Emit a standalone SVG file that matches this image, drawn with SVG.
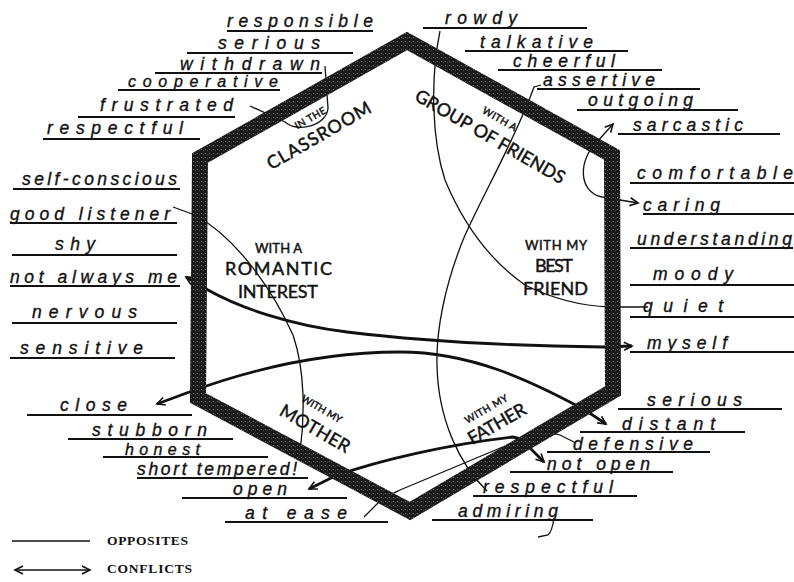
<svg xmlns="http://www.w3.org/2000/svg" width="794" height="582" viewBox="0 0 794 582">
<defs>
<style>
.hw{font-family:"Liberation Sans","DejaVu Sans",sans-serif;font-style:italic;font-size:17.5px;fill:#111;stroke:#111;stroke-width:0.35}
.sm{font-size:16px}
.ul{stroke:#111;stroke-width:1.8;fill:none}
.lab{font-family:Lato,"Liberation Sans",sans-serif;fill:#111;stroke:#111;stroke-width:0.45}
.thin{fill:none;stroke:#111;stroke-width:1.3}
.thick{fill:none;stroke:#111;stroke-width:2.8}
.leg{font-family:"Liberation Serif",serif;font-weight:bold;font-size:13.5px;fill:#111}
</style>
<pattern id="stip" width="4" height="4" patternUnits="userSpaceOnUse">
<rect width="4" height="4" fill="#1a1a1a"/>
<rect x="1" y="1" width="1" height="1" fill="#7a7a7a"/>
<rect x="3" y="2" width="1" height="1" fill="#4a4a4a"/>
</pattern>
<marker id="arr" viewBox="0 0 10 10" refX="9" refY="5" markerWidth="10" markerHeight="10" markerUnits="userSpaceOnUse" orient="auto-start-reverse" overflow="visible">
<path d="M1,1 L9,5 L1,9" fill="none" stroke="#111" stroke-width="1.6"/>
</marker>
</defs>
<rect width="794" height="582" fill="#fff"/>

<g id="connectors">
<path class="thin" d="M325,66 L328,108 C327,126 297,133 285,122 L250,106"/>
<path class="thin" d="M440,31 C430,80 432,140 445,180 C465,228 492,262 525,285 C555,300 585,306 610,307 L648,307"/>
<path class="thin" d="M541,85 L534,87 C515,140 480,200 463,240 C445,285 436,330 437,365 C438,420 460,465 487,491"/>
<path class="thin" d="M173,207 L195,215 C240,240 275,295 293,335 C305,370 305,415 300,452"/>
<path class="thick" d="M186,277 L208,290 C240,308 290,325 347,332 C420,341 520,346 603,347 L632,346" marker-start="url(#arr)" marker-end="url(#arr)"/>
<path class="thick" d="M157,404 L192,391 C250,370 320,352 400,352 C470,352 530,380 585,410 L606,424" marker-start="url(#arr)" marker-end="url(#arr)"/>
<path class="thick" d="M309,489 L335,476 C380,460 450,444 513,437 C522,438 526,443 530,448 L544,462" marker-start="url(#arr)" marker-end="url(#arr)"/>
<path class="thin" d="M364,517 L378,503 C385,497 392,494 400,490 L505,446 C530,436 550,432 560,435 L576,443"/>
<path class="thin" d="M613,124 L597,142 C578,160 578,192 602,197 L638,203" marker-start="url(#arr)" marker-end="url(#arr)"/>
</g>

<g id="hexagon">
<polygon points="407,41 612,155 613,391 410,511 198,398 200,158" fill="none" stroke="url(#stip)" stroke-width="16" stroke-linejoin="miter"/>
</g>

<g id="ctx-classroom">
<text class="lab" x="312" y="121" font-size="10" text-anchor="middle" textLength="34" transform="rotate(-30 312 121)">IN THE</text>
<text class="lab" x="322" y="141" font-size="18" text-anchor="middle" textLength="117" transform="rotate(-30 322 141)">CLASSROOM</text>
</g>
<g id="ctx-friends">
<text class="lab" x="498" y="122" font-size="10" text-anchor="middle" textLength="38" transform="rotate(30 498 122)">WITH A</text>
<text class="lab" x="487" y="142" font-size="18" text-anchor="middle" textLength="170" transform="rotate(30 487 142)">GROUP OF FRIENDS</text>
</g>
<g id="ctx-romantic">
<text class="lab" x="255" y="253" font-size="13" textLength="47">WITH A</text>
<text class="lab" x="225" y="275" font-size="18" textLength="107">ROMANTIC</text>
<text class="lab" x="238" y="298" font-size="18" textLength="80">INTEREST</text>
</g>
<g id="ctx-bestfriend">
<text class="lab" x="525" y="250" font-size="13" textLength="62">WITH MY</text>
<text class="lab" x="535" y="272" font-size="18" textLength="38">BEST</text>
<text class="lab" x="523" y="295" font-size="18" textLength="65">FRIEND</text>
</g>
<g id="ctx-mother">
<text class="lab" x="320" y="412" font-size="10" text-anchor="middle" textLength="45" transform="rotate(30 320 412)">WITH MY</text>
<text class="lab" x="312" y="434" font-size="18" text-anchor="middle" textLength="78" transform="rotate(30 312 434)">MOTHER</text>
</g>
<g id="ctx-father">
<text class="lab" x="488" y="412" font-size="10" text-anchor="middle" textLength="48" transform="rotate(-30 488 412)">WITH MY</text>
<text class="lab" x="500" y="429" font-size="18" text-anchor="middle" textLength="64" transform="rotate(-30 500 429)">FATHER</text>
</g>

<g id="w-responsible"><text class="hw" x="227" y="27" textLength="146">responsible</text><line class="ul" x1="227" y1="31" x2="373" y2="31"/></g>
<g id="w-serious-1"><text class="hw" x="218" y="49" textLength="102">serious</text><line class="ul" x1="187" y1="53" x2="353" y2="53"/></g>
<g id="w-withdrawn"><text class="hw" x="180" y="70" textLength="140">withdrawn</text><line class="ul" x1="155" y1="73" x2="322" y2="73"/></g>
<g id="w-cooperative"><text class="hw sm" x="128" y="87" textLength="150">cooperative</text><line class="ul" x1="118" y1="90" x2="280" y2="90"/></g>
<g id="w-frustrated"><text class="hw" x="100" y="111" textLength="133">frustrated</text><line class="ul" x1="78" y1="117" x2="235" y2="117"/></g>
<g id="w-respectful-1"><text class="hw" x="47" y="134" textLength="136">respectful</text><line class="ul" x1="43" y1="139" x2="200" y2="139"/></g>
<g id="w-self-conscious"><text class="hw" x="22" y="185" textLength="155">self-conscious</text><line class="ul" x1="13" y1="189" x2="180" y2="189"/></g>
<g id="w-good-listener"><text class="hw" x="10" y="220" textLength="160">good listener</text><line class="ul" x1="10" y1="223" x2="177" y2="223"/></g>
<g id="w-shy"><text class="hw" x="55" y="250" textLength="40">shy</text><line class="ul" x1="12" y1="255" x2="177" y2="255"/></g>
<g id="w-not-always-me"><text class="hw" x="10" y="283" textLength="167">not always me</text><line class="ul" x1="10" y1="286" x2="180" y2="286"/></g>
<g id="w-nervous"><text class="hw" x="32" y="318" textLength="105">nervous</text><line class="ul" x1="12" y1="323" x2="177" y2="323"/></g>
<g id="w-sensitive"><text class="hw" x="20" y="354" textLength="123">sensitive</text><line class="ul" x1="10" y1="358" x2="175" y2="358"/></g>
<g id="w-close"><text class="hw" x="60" y="411" textLength="67">close</text><line class="ul" x1="27" y1="415" x2="192" y2="415"/></g>
<g id="w-stubborn"><text class="hw" x="92" y="436" textLength="115">stubborn</text><line class="ul" x1="68" y1="439" x2="233" y2="439"/></g>
<g id="w-honest"><text class="hw sm" x="125" y="455" textLength="75">honest</text><line class="ul" x1="103" y1="457" x2="268" y2="457"/></g>
<g id="w-short-tempered"><text class="hw" x="137" y="475" textLength="160">short tempered!</text><line class="ul" x1="137" y1="478" x2="308" y2="478"/></g>
<g id="w-open"><text class="hw" x="233" y="495" textLength="54">open</text><line class="ul" x1="182" y1="498" x2="347" y2="498"/></g>
<g id="w-at-ease"><text class="hw" x="245" y="519" textLength="102">at ease</text><line class="ul" x1="225" y1="522" x2="388" y2="522"/></g>
<g id="w-rowdy"><text class="hw" x="445" y="24" textLength="72">rowdy</text><line class="ul" x1="423" y1="28" x2="587" y2="28"/></g>
<g id="w-talkative"><text class="hw" x="480" y="48" textLength="113">talkative</text><line class="ul" x1="465" y1="51" x2="628" y2="51"/></g>
<g id="w-cheerful"><text class="hw" x="513" y="67" textLength="102">cheerful</text><line class="ul" x1="498" y1="70" x2="662" y2="70"/></g>
<g id="w-assertive"><text class="hw" x="543" y="86" textLength="112">assertive</text><line class="ul" x1="537" y1="89" x2="700" y2="89"/></g>
<g id="w-outgoing"><text class="hw" x="588" y="106" textLength="105">outgoing</text><line class="ul" x1="577" y1="110" x2="738" y2="110"/></g>
<g id="w-sarcastic"><text class="hw" x="633" y="131" textLength="110">sarcastic</text><line class="ul" x1="618" y1="134" x2="780" y2="134"/></g>
<g id="w-comfortable"><text class="hw" x="637" y="179" textLength="156">comfortable</text><line class="ul" x1="630" y1="183" x2="794" y2="183"/></g>
<g id="w-caring"><text class="hw" x="643" y="211" textLength="77">caring</text><line class="ul" x1="643" y1="214" x2="794" y2="214"/></g>
<g id="w-understanding"><text class="hw" x="637" y="245" textLength="155">understanding</text><line class="ul" x1="630" y1="248" x2="793" y2="248"/></g>
<g id="w-moody"><text class="hw" x="653" y="280" textLength="80">moody</text><line class="ul" x1="630" y1="285" x2="794" y2="285"/></g>
<g id="w-quiet"><text class="hw" x="643" y="312" textLength="80">quiet</text><line class="ul" x1="630" y1="317" x2="794" y2="317"/></g>
<g id="w-myself"><text class="hw" x="647" y="349" textLength="80">myself</text><line class="ul" x1="630" y1="352" x2="794" y2="352"/></g>
<g id="w-serious-2"><text class="hw" x="647" y="406" textLength="95">serious</text><line class="ul" x1="618" y1="409" x2="782" y2="409"/></g>
<g id="w-distant"><text class="hw" x="622" y="430" textLength="93">distant</text><line class="ul" x1="580" y1="432" x2="745" y2="432"/></g>
<g id="w-defensive"><text class="hw" x="573" y="450" textLength="120">defensive</text><line class="ul" x1="547" y1="452" x2="710" y2="452"/></g>
<g id="w-not-open"><text class="hw" x="547" y="470" textLength="103">not open</text><line class="ul" x1="510" y1="472" x2="673" y2="472"/></g>
<g id="w-respectful-2"><text class="hw" x="483" y="493" textLength="130">respectful</text><line class="ul" x1="473" y1="496" x2="637" y2="496"/></g>
<g id="w-admiring"><text class="hw" x="458" y="517" textLength="100">admiring</text><line class="ul" x1="432" y1="520" x2="593" y2="520"/><path class="thin" d="M554,518 Q552,532 548,535 L538,537"/></g>

<g id="legend">
<line x1="12" y1="541" x2="90" y2="541" stroke="#111" stroke-width="1.5"/>
<text class="leg" x="107" y="545" textLength="81">OPPOSITES</text>
<line x1="15" y1="570" x2="90" y2="570" stroke="#111" stroke-width="1.3" marker-start="url(#arr)" marker-end="url(#arr)"/>
<text class="leg" x="107" y="573" textLength="85">CONFLICTS</text>
</g>
</svg>
